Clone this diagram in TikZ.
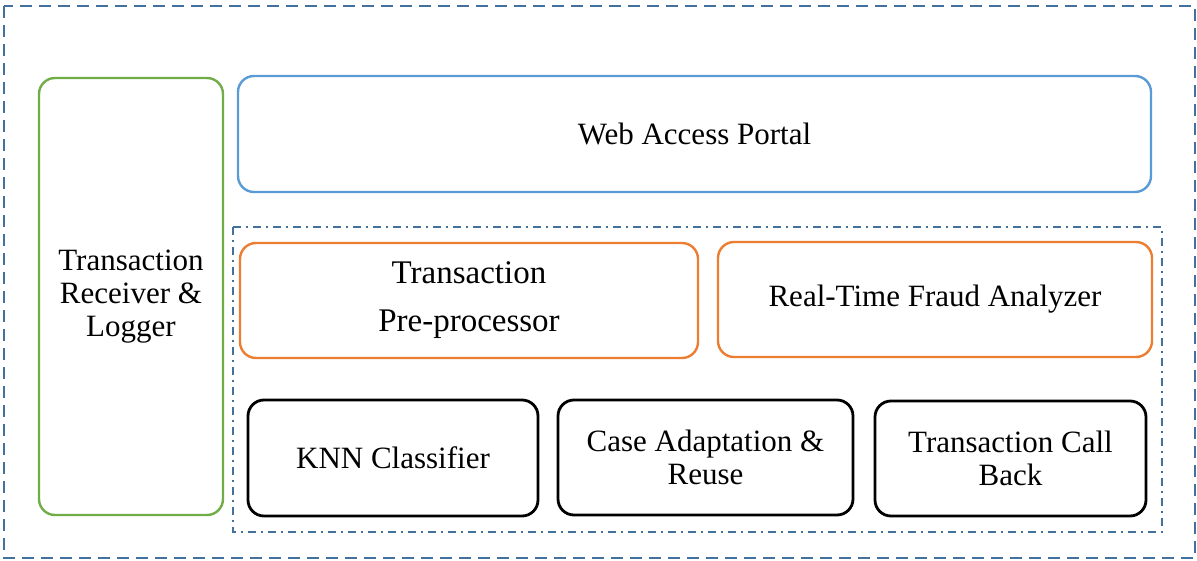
\documentclass[tikz,border=0pt]{standalone}
\usepackage{fontspec}
\setmainfont{Liberation Serif}
\begin{document}
\begin{tikzpicture}[x=1pt,y=-1pt,
  outerframe/.style={draw=frameblue, line width=2.6pt, dash pattern=on 12pt off 7pt},
  innerframe/.style={draw=frameblue, line width=2.4pt, dash pattern=on 8pt off 5pt on 2pt off 5pt},
  comp/.style={rounded corners=16pt, line width=2.4pt, inner sep=0pt, align=center,
    font=\fontsize{31}{33}\selectfont},
  blk/.style={comp, draw=black, line width=2.8pt}
]
\definecolor{frameblue}{HTML}{41719C}
\definecolor{gr}{HTML}{70AD47}
\definecolor{bl}{HTML}{5B9BD5}
\definecolor{orng}{HTML}{ED7D31}
\useasboundingbox (0,0) rectangle (1197,561);
\draw[outerframe] (4,6) rectangle (1195,558);
\draw[innerframe] (233,227) rectangle (1162,532);
\node[comp, draw=gr, minimum width=184pt, minimum height=437pt] (recv) at (131,296.5)
  {Transaction\\Receiver \&\\Logger};
\node[comp, draw=bl, minimum width=913pt, minimum height=116pt] (web) at (694.5,134)
  {Web Access Portal};
\node[comp, draw=orng, minimum width=458pt, minimum height=115pt,
  font=\fontsize{33}{35}\selectfont] (pre) at (469,300.5)
  {Transaction\\[13pt]Pre-processor};
\node[comp, draw=orng, minimum width=434pt, minimum height=115pt] (rtfa) at (935,299.5)
  {Real-Time Fraud Analyzer};
\node[blk, minimum width=290pt, minimum height=116pt] (knn) at (393,458)
  {KNN Classifier};
\node[blk, minimum width=295pt, minimum height=115pt] (case) at (705.5,457.5)
  {Case Adaptation \&\\Reuse};
\node[blk, minimum width=271pt, minimum height=115pt] (cb) at (1010.5,458.5)
  {Transaction Call\\Back};
\end{tikzpicture}
\end{document}
